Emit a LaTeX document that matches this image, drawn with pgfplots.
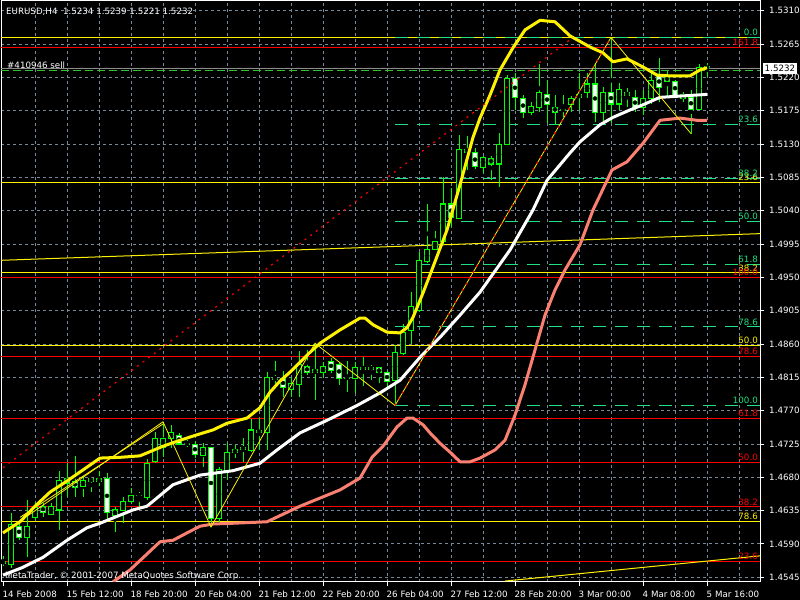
\documentclass[border=0pt]{standalone}
\usepackage{pgfplots}
\pgfplotsset{compat=1.18}
\usepackage{pgfplotstable}
\usepackage{fontspec}
\setmainfont{DejaVu Sans}

\definecolor{candle}{HTML}{00FF00}
\definecolor{gridgray}{HTML}{778899}
\definecolor{fibgreen}{HTML}{20E080}
\definecolor{ordergreen}{HTML}{30C030}
\definecolor{salmon}{HTML}{FA8072}
\definecolor{bidgray}{HTML}{8C8C8C}
\newcommand{\mt}{\fontsize{8.7bp}{10bp}\selectfont}
\newcommand{\fiblab}[3]{\node[anchor=south east, inner sep=0pt, yshift=1.5bp, text=#1, font=\mt] at (axis cs:758,#2) {#3};}

% EURUSD H4 candles: x = pixel position of bar, open high low close
\pgfplotstableread{
x o h l c
3 1.4564 1.4574 1.4560 1.4567
11 1.4563 1.4632 1.4558 1.4616
19 1.4614 1.4620 1.4595 1.4599
27 1.4599 1.4649 1.4572 1.4614
35 1.4626 1.4647 1.4622 1.4640
43 1.4641 1.4645 1.4626 1.4633
51 1.4630 1.4645 1.4629 1.4641
59 1.4636 1.4689 1.4609 1.4676
67 1.4679 1.4699 1.4653 1.4672
75 1.4674 1.4709 1.4653 1.4667
83 1.4667 1.4682 1.4653 1.4676
91 1.4678 1.4679 1.4660 1.4675
99 1.4678 1.4689 1.4668 1.4674
107 1.4678 1.4686 1.4620 1.4632
115 1.4629 1.4640 1.4606 1.4636
123 1.4635 1.4653 1.4618 1.4648
131 1.4648 1.4666 1.4645 1.4656
139 1.4655 1.4660 1.4640 1.4656
147 1.4653 1.4705 1.4649 1.4699
155 1.4701 1.4741 1.4699 1.4733
163 1.4721 1.4755 1.4707 1.4732
171 1.4732 1.4751 1.4720 1.4740
179 1.4737 1.4740 1.4724 1.4725
187 1.4725 1.4730 1.4721 1.4726
195 1.4725 1.4729 1.4706 1.4711
203 1.4710 1.4726 1.4694 1.4720
211 1.4720 1.4721 1.4613 1.4625
219 1.4624 1.4694 1.4620 1.4691
227 1.4689 1.4726 1.4676 1.4714
235 1.4713 1.4724 1.4706 1.4717
243 1.4718 1.4733 1.4701 1.4720
251 1.4716 1.4759 1.4714 1.4744
259 1.4743 1.4760 1.4717 1.4740
267 1.4740 1.4822 1.4717 1.4815
275 1.4813 1.4837 1.4805 1.4814
283 1.4814 1.4824 1.4788 1.4801
291 1.4799 1.4815 1.4788 1.4807
299 1.4806 1.4851 1.4788 1.4832
307 1.4830 1.4852 1.4818 1.4822
315 1.4825 1.4861 1.4784 1.4821
323 1.4821 1.4836 1.4814 1.4829
331 1.4837 1.4841 1.4821 1.4824
339 1.4832 1.4834 1.4805 1.4814
347 1.4814 1.4837 1.4795 1.4815
355 1.4813 1.4836 1.4794 1.4829
363 1.4826 1.4842 1.4803 1.4829
371 1.4829 1.4832 1.4811 1.4826
379 1.4828 1.4829 1.4807 1.4821
387 1.4821 1.4824 1.4798 1.4810
395 1.4811 1.4859 1.4777 1.4848
403 1.4847 1.4887 1.4845 1.4876
411 1.4878 1.4930 1.4860 1.4911
419 1.4905 1.4984 1.4903 1.4973
427 1.4971 1.5049 1.4969 1.4987
435 1.4988 1.5013 1.4987 1.4999
443 1.4998 1.5085 1.4994 1.5049
451 1.5049 1.5071 1.5018 1.5031
459 1.5030 1.5142 1.5030 1.5123
467 1.5123 1.5141 1.5095 1.5119
475 1.5119 1.5125 1.5096 1.5099
483 1.5099 1.5114 1.5091 1.5112
491 1.5111 1.5114 1.5081 1.5103
499 1.5103 1.5145 1.5072 1.5129
507 1.5130 1.5223 1.5129 1.5219
515 1.5219 1.5226 1.5176 1.5193
523 1.5192 1.5196 1.5165 1.5172
531 1.5172 1.5187 1.5169 1.5181
539 1.5180 1.5238 1.5173 1.5199
547 1.5197 1.5216 1.5158 1.5183
555 1.5180 1.5196 1.5156 1.5173
563 1.5177 1.5196 1.5166 1.5175
571 1.5184 1.5195 1.5173 1.5191
579 1.5193 1.5226 1.5176 1.5197
587 1.5199 1.5226 1.5192 1.5211
595 1.5211 1.5239 1.5160 1.5172
603 1.5172 1.5207 1.5160 1.5200
611 1.5200 1.5274 1.5158 1.5184
619 1.5184 1.5212 1.5176 1.5203
627 1.5200 1.5206 1.5180 1.5195
635 1.5193 1.5203 1.5173 1.5179
643 1.5179 1.5203 1.5169 1.5192
651 1.5191 1.5226 1.5184 1.5216
659 1.5222 1.5246 1.5187 1.5207
667 1.5222 1.5229 1.5193 1.5214
675 1.5215 1.5216 1.5193 1.5196
683 1.5197 1.5200 1.5187 1.5192
691 1.5193 1.5203 1.5144 1.5177
699 1.5177 1.5238 1.5176 1.5233
707 1.5234 1.5239 1.5221 1.5232
}\candles

% upper envelope (thick yellow)
\pgfplotstableread{
x y
3 1.4605
20 1.4620
35 1.4641
50 1.4660
67 1.4675
83 1.4690
100 1.4706
120 1.4707
140 1.4709
163 1.4722
180 1.4730
196 1.4737
213 1.4744
227 1.4753
247 1.4760
260 1.4774
270 1.4795
280 1.4810
290 1.4822
307 1.4845
320 1.4861
340 1.4879
360 1.4895
365 1.4895
373 1.4886
387 1.4876
400 1.4875
407 1.4882
413 1.4896
423 1.4929
433 1.4964
447 1.5014
460 1.5075
473 1.5139
480 1.5165
490 1.5196
500 1.5230
513 1.5260
525 1.5284
540 1.5297
555 1.5295
570 1.5276
590 1.5261
603 1.5253
613 1.5241
627 1.5245
643 1.5234
657 1.5223
670 1.5222
690 1.5222
700 1.5230
707 1.5233
}\upperband

% moving average (white)
\pgfplotstableread{
x y
3 1.4548
22 1.4558
43 1.4572
67 1.4595
87 1.4612
100 1.4618
133 1.4636
147 1.4641
173 1.4670
200 1.4683
233 1.4689
260 1.4699
277 1.4717
300 1.4740
327 1.4757
357 1.4777
380 1.4794
400 1.4811
420 1.4842
440 1.4869
460 1.4899
480 1.4930
510 1.4987
533 1.5041
547 1.5081
570 1.5118
580 1.5133
600 1.5156
613 1.5166
630 1.5176
643 1.5183
660 1.5193
707 1.5197
}\maband

% lower envelope (salmon)
\pgfplotstableread{
x y
113 1.4539
130 1.4555
145 1.4574
160 1.4593
173 1.4595
187 1.4605
200 1.4614
213 1.4617
233 1.4618
267 1.4620
300 1.4641
340 1.4663
360 1.4679
372 1.4707
383 1.4722
397 1.4748
407 1.4760
413 1.4760
423 1.4751
430 1.4740
440 1.4726
450 1.4714
460 1.4701
470 1.4701
480 1.4706
495 1.4717
505 1.4730
515 1.4764
525 1.4805
535 1.4852
545 1.4899
555 1.4933
565 1.4960
580 1.4994
593 1.5041
605 1.5075
612 1.5095
627 1.5106
643 1.5131
660 1.5162
680 1.5165
697 1.5162
707 1.5162
}\lowerband

\begin{document}
\begin{tikzpicture}[x=1bp,y=1bp]
\fill[black] (-1,-18) rectangle (799,582);
\begin{axis}[
    at={(0,0)}, anchor=south west,
    scale only axis, width=759bp, height=581bp,
    xmin=1, xmax=760, ymin=1.45387, ymax=1.53231,
    axis line style={white, line width=1bp},
    clip mode=individual,
    scaled ticks=false,
    tick align=outside,
    major tick length=4bp, minor tick length=0pt,
    tick style={white, line width=1bp},
    xtick pos=left, ytick pos=right,
    xticklabel pos=left, yticklabel pos=right,
    xtick={3,67,...,707},
    xticklabels={14 Feb 2008,15 Feb 12:00,18 Feb 20:00,20 Feb 04:00,21 Feb 12:00,22 Feb 20:00,26 Feb 04:00,27 Feb 12:00,28 Feb 20:00,3 Mar 00:00,4 Mar 08:00,5 Mar 16:00},
    minor xtick={35,67,...,739},
    ytick={1.4545,1.4590,1.4635,1.4680,1.4725,1.4770,1.4815,1.4860,1.4905,1.4950,1.4995,1.5040,1.5085,1.5130,1.5175,1.5220,1.5265,1.5310},
    yticklabels={1.4545,1.4590,1.4635,1.4680,1.4725,1.4770,1.4815,1.4860,1.4905,1.4950,1.4995,1.5040,1.5085,1.5130,1.5175,1.5220,1.5265,1.5310},
    xminorgrids=true, ymajorgrids=true, xmajorgrids=false,
    major grid style={gridgray, dash pattern=on 3bp off 3bp, line width=1bp},
    minor grid style={gridgray, dash pattern=on 3bp off 3bp, line width=1bp},
    xticklabel style={font=\mt, text=white, anchor=north west, inner sep=0pt, xshift=-0.5bp, yshift=-5bp},
    yticklabel style={font=\mt, text=white, anchor=west, inner sep=0pt, xshift=5bp},
]

% fibonacci levels, yellow set (full width)
\pgfplotsinvokeforeach{1.5274,1.5078,1.4956,1.4858,1.4760,1.4620}{
  \addplot[yellow, line width=1bp] coordinates {(1,#1) (760,#1)};
}
% red set
\pgfplotsinvokeforeach{1.5260,1.4950,1.4843,1.4759,1.4700,1.4640,1.4567}{
  \addplot[red, line width=1bp] coordinates {(1,#1) (760,#1)};
}
% green set, from the swing low to the right
\pgfplotsinvokeforeach{1.5274,1.5157,1.5084,1.5026,1.4967,1.4883,1.4777}{
  \addplot[fibgreen, line width=1bp, dash pattern=on 13bp off 9bp] coordinates {(395,#1) (760,#1)};
}

% sloped yellow lines
\addplot[yellow, line width=1bp] coordinates {(1,1.4973) (760,1.5009)};
\addplot[yellow, line width=1bp] coordinates {(505,1.4540) (760,1.4574)};

% bid and order lines
\addplot[bidgray, line width=1bp] coordinates {(1,1.5232) (760,1.5232)};
\addplot[ordergreen, line width=1bp, dash pattern=on 8bp off 4bp] coordinates {(1,1.5229) (760,1.5229)};

% candles: wicks, body outline, body fill
\addplot[only marks, mark=none, error bars/.cd, y dir=both, y explicit, error mark=none,
  error bar style={candle, line width=1bp}]
  table[x=x, y expr={(\thisrow{h}+\thisrow{l})/2}, y error expr={(\thisrow{h}-\thisrow{l})/2}] {\candles};
\addplot[only marks, mark=none, error bars/.cd, y dir=both, y explicit, error mark=none,
  error bar style={candle, line width=5.5bp}]
  table[x=x, y expr={(\thisrow{o}+\thisrow{c})/2}, y error expr={abs(\thisrow{o}-\thisrow{c})/2+0.00007}] {\candles};
\addplot[only marks, mark=none, error bars/.cd, y dir=both, y explicit, error mark=none,
  error bar style={black, line width=3.5bp}]
  table[x=x, y expr={(\thisrow{o}+\thisrow{c})/2}, y error expr={max(abs(\thisrow{o}-\thisrow{c})/2-0.00007,0)}] {\candles};
\addplot[only marks, mark=none, error bars/.cd, y dir=both, y explicit, error mark=none,
  error bar style={white, line width=3.5bp}]
  table[x=x, y expr={(\thisrow{o}+\thisrow{c})/2}, y error expr={max((\thisrow{o}-\thisrow{c})/2-0.00007,0)}] {\candles};

% indicator lines
\addplot[salmon, line width=3bp, line join=round] table[x=x, y=y] {\lowerband};
\addplot[yellow, line width=3bp, line join=round] table[x=x, y=y] {\upperband};
\addplot[white, line width=3bp, line join=round] table[x=x, y=y] {\maband};

% zigzag and trend lines
\addplot[yellow, line width=0.8bp] coordinates {(3,1.4605) (163,1.4755) (211,1.4613) (315,1.4861) (395,1.4777) (611,1.5274) (691,1.5144)};
\addplot[yellow, line width=0.8bp] coordinates {(20,1.4626) (163,1.4752)};
\addplot[red, line width=1.2bp, dash pattern=on 2bp off 5bp] coordinates {(3,1.4693) (573,1.5274)};
\addplot[red, line width=1.2bp, dash pattern=on 2bp off 5bp] coordinates {(395,1.4777) (611,1.5274)};

% level labels
\fiblab{yellow}{1.5078}{23.6}
\fiblab{yellow}{1.4956}{38.2}
\fiblab{yellow}{1.4858}{50.0}
\fiblab{yellow}{1.4620}{78.6}
\fiblab{red}{1.5260}{161.8}
\fiblab{red}{1.4950}{100.0}
\fiblab{red}{1.4843}{78.6}
\fiblab{red}{1.4759}{61.8}
\fiblab{red}{1.4700}{50.0}
\fiblab{red}{1.4640}{38.2}
\fiblab{red}{1.4567}{23.6}
\fiblab{fibgreen}{1.5274}{0.0}
\fiblab{fibgreen}{1.5157}{23.6}
\fiblab{fibgreen}{1.5084}{38.2}
\fiblab{fibgreen}{1.5026}{50.0}
\fiblab{fibgreen}{1.4967}{61.8}
\fiblab{fibgreen}{1.4883}{78.6}
\fiblab{fibgreen}{1.4777}{100.0}

\node[anchor=north west, inner sep=0pt, text=white, font=\mt] at (axis cs:6,1.53140) {EURUSD,H4\ \ 1.5234 1.5239 1.5221 1.5232};
\node[anchor=north west, inner sep=0pt, text=white, font=\mt] at (axis cs:7,1.5241) {\#410946 sell};
\node[anchor=north west, inner sep=0pt, text=white, font=\mt] at (axis cs:5,1.4553) {MetaTrader, © 2001-2007 MetaQuotes Software Corp.};
\node[anchor=west, fill=white, text=black, font=\mt, inner xsep=1.5bp, inner ysep=2bp] at (axis cs:763,1.5232) {1.5232};
\end{axis}
\pgfresetboundingbox
\path[use as bounding box] (-1,-18) rectangle (799,582);
\end{tikzpicture}
\end{document}
